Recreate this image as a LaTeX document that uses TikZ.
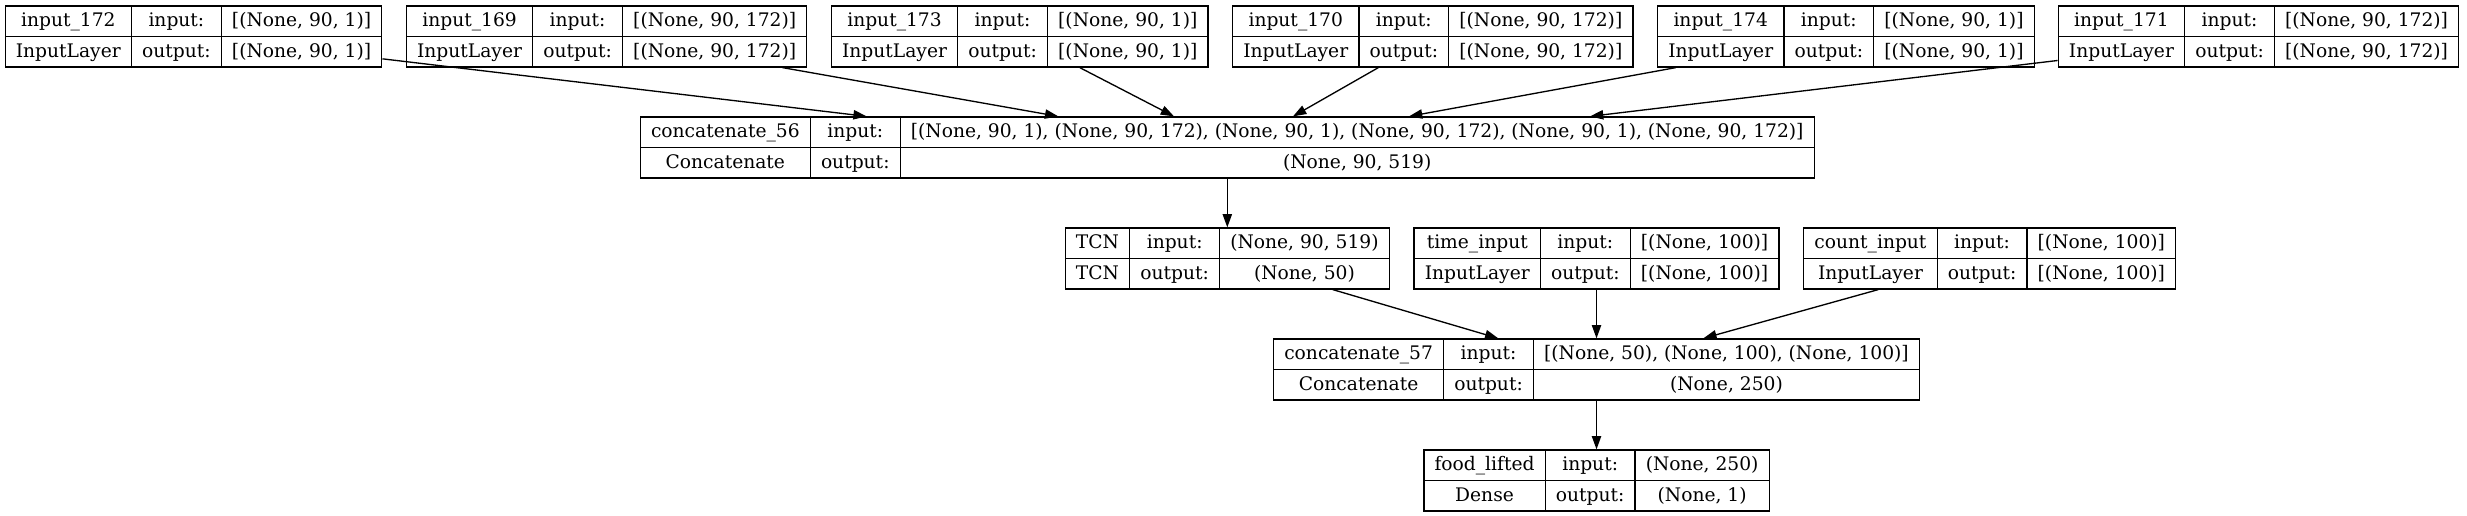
\documentclass[tikz,border=0pt]{standalone}
\usepackage{fontspec}
\setmainfont{DejaVu Serif}
\usetikzlibrary{arrows.meta}

\setlength\tabcolsep{10.67pt}
\setlength\arrayrulewidth{1.33pt}
\newcommand\lstrut{\rule[-9pt]{0pt}{29.8pt}}
\newcommand\layerbox[4]{\begin{tabular}{c|c|c}\lstrut #1 & input: & #3\\ \hline
\lstrut #2 & output: & #4\end{tabular}}

\tikzset{
	kbox/.style={draw, line width=1.33pt, inner sep=0pt, font=\fontsize{18.67}{22}\selectfont},
	edge/.style={-{Triangle[length=13.3pt,width=9.3pt]}, line width=1.33pt}
}

\begin{document}
\begin{tikzpicture}[x=1pt, y=-1pt]
	\useasboundingbox (0,0) rectangle (2467,516);
	
	% input layers
	\node[kbox] (in172) at (193.5,36.5) {\layerbox{input\_172}{InputLayer}{[(None, 90, 1)]}{[(None, 90, 1)]}};
	\node[kbox] (in169) at (606.6,36.5) {\layerbox{input\_169}{InputLayer}{[(None, 90, 172)]}{[(None, 90, 172)]}};
	\node[kbox] (in173) at (1019.7,36.5) {\layerbox{input\_173}{InputLayer}{[(None, 90, 1)]}{[(None, 90, 1)]}};
	\node[kbox] (in170) at (1432.8,36.5) {\layerbox{input\_170}{InputLayer}{[(None, 90, 172)]}{[(None, 90, 172)]}};
	\node[kbox] (in174) at (1845.9,36.5) {\layerbox{input\_174}{InputLayer}{[(None, 90, 1)]}{[(None, 90, 1)]}};
	\node[kbox] (in171) at (2258.5,36.5) {\layerbox{input\_171}{InputLayer}{[(None, 90, 172)]}{[(None, 90, 172)]}};
	
	% first concatenate
	\node[kbox] (cat56) at (1227.3,147.5) {\layerbox{concatenate\_56}{Concatenate}{[(None, 90, 1), (None, 90, 172), (None, 90, 1), (None, 90, 172), (None, 90, 1), (None, 90, 172)]}{(None, 90, 519)}};
	\draw[edge] (in172) -- ([xshift=-360.6pt]cat56.north);
	\draw[edge] (in169) -- ([xshift=-169pt]cat56.north);
	\draw[edge] (in173) -- ([xshift=-53.3pt]cat56.north);
	\draw[edge] (in170) -- ([xshift=65.7pt]cat56.north);
	\draw[edge] (in174) -- ([xshift=181.7pt]cat56.north);
	\draw[edge] (in171) -- ([xshift=362.7pt]cat56.north);
	
	% tcn, time and count
	\node[kbox] (tcn) at (1227.3,258.5) {\layerbox{TCN}{TCN}{(None, 90, 519)}{(None, 50)}};
	\node[kbox] (timein) at (1596.5,258.5) {\layerbox{time\_input}{InputLayer}{[(None, 100)]}{[(None, 100)]}};
	\node[kbox] (countin) at (1989.7,258.5) {\layerbox{count\_input}{InputLayer}{[(None, 100)]}{[(None, 100)]}};
	\draw[edge] (cat56) -- (tcn);
	
	% second concatenate and output
	\node[kbox] (cat57) at (1596.5,369.5) {\layerbox{concatenate\_57}{Concatenate}{[(None, 50), (None, 100), (None, 100)]}{(None, 250)}};
	\node[kbox] (food) at (1596.5,480.5) {\layerbox{food\_lifted}{Dense}{(None, 250)}{(None, 1)}};
	\draw[edge] (tcn) -- ([xshift=-98.2pt]cat57.north);
	\draw[edge] (timein) -- (cat57);
	\draw[edge] (countin) -- ([xshift=106.8pt]cat57.north);
	\draw[edge] (cat57) -- (food);
\end{tikzpicture}
\end{document}
